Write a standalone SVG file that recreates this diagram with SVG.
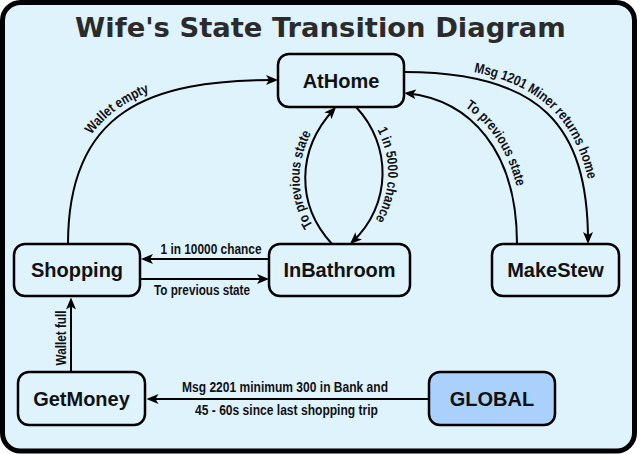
<svg xmlns="http://www.w3.org/2000/svg" width="640" height="454" viewBox="0 0 640 454">
<defs>
<style>
.node rect{fill:#dff3fd;stroke:#000;stroke-width:2.5}
.node text{font-family:"Liberation Sans",Arial,sans-serif;font-weight:bold;font-size:20px;fill:#111;text-anchor:middle}
.edge{fill:none;stroke:#000;stroke-width:2}
.lbl{font-family:"Liberation Sans Narrow","Arial Narrow","Liberation Sans",sans-serif;font-weight:bold;font-size:14px;fill:#111}
.mid{text-anchor:middle}
</style>
<marker id="arr" viewBox="0 0 12 10" refX="9" refY="5" markerWidth="12" markerHeight="10" markerUnits="userSpaceOnUse" orient="auto">
<path d="M0,0 L12,5 L0,10 L3,5 Z" fill="#000"/>
</marker>
<path id="tp1" d="M62,244 C62,105 148,74 275,74"/>
<path id="tp2" d="M404,66 C544,66 594,122 594,243"/>
<path id="tp3" d="M408,87 C477,94 523,148 523,243"/>
<path id="tp4" d="M361,108 C398,146 398,205 356,243"/>
<path id="tp5" d="M327,244 C290,205 290,150 330,107"/>
</defs>
<rect x="2.5" y="2.5" width="632" height="448.5" rx="18" fill="#dff3fd" stroke="#000" stroke-width="5"/>
<text x="320.5" y="37" font-family="DejaVu Sans,sans-serif" font-weight="bold" font-size="27.4" fill="#2b2b2b" text-anchor="middle">Wife's State Transition Diagram</text>

<g id="connectors">
<path class="edge" d="M68,244 C68,110 150,80 275,80" marker-end="url(#arr)"/>
<path class="edge" d="M404,72 C540,72 588,125 588,241" marker-end="url(#arr)"/>
<path class="edge" d="M517,244 C517,150 470,100 407,93.3" marker-end="url(#arr)"/>
<path class="edge" d="M356,107 C392,145 392,205 352.2,242" marker-end="url(#arr)"/>
<path class="edge" d="M332,244 C296,205 296,150 334,109.2" marker-end="url(#arr)"/>
<path class="edge" d="M269,259 L144,259" marker-end="url(#arr)"/>
<path class="edge" d="M141,279 L266,279" marker-end="url(#arr)"/>
<path class="edge" d="M71,372 L71,300.5" marker-end="url(#arr)"/>
<path class="edge" d="M429,399 L149.5,399" marker-end="url(#arr)"/>
<text class="lbl"><textPath href="#tp1" startOffset="48%" text-anchor="middle" textLength="73" lengthAdjust="spacingAndGlyphs">Wallet empty</textPath></text>
<text class="lbl"><textPath href="#tp2" startOffset="51%" text-anchor="middle" textLength="168" lengthAdjust="spacingAndGlyphs">Msg 1201 Miner returns home</textPath></text>
<text class="lbl"><textPath href="#tp3" startOffset="51%" text-anchor="middle" textLength="97" lengthAdjust="spacingAndGlyphs">To previous state</textPath></text>
<text class="lbl"><textPath href="#tp4" startOffset="49%" text-anchor="middle" textLength="94" lengthAdjust="spacingAndGlyphs">1 in 5000 chance</textPath></text>
<text class="lbl"><textPath href="#tp5" startOffset="47%" text-anchor="middle" textLength="97" lengthAdjust="spacingAndGlyphs">To previous state</textPath></text>
<text class="lbl mid" x="211" y="254" textLength="101" lengthAdjust="spacingAndGlyphs">1 in 10000 chance</text>
<text class="lbl mid" x="202" y="295" textLength="96" lengthAdjust="spacingAndGlyphs">To previous state</text>
<text class="lbl mid" transform="translate(66,338) rotate(-90)" textLength="55" lengthAdjust="spacingAndGlyphs">Wallet full</text>
<text class="lbl mid" x="285" y="391.5" textLength="206" lengthAdjust="spacingAndGlyphs">Msg 2201 minimum 300 in Bank and</text>
<text class="lbl mid" x="286.5" y="415" textLength="183" lengthAdjust="spacingAndGlyphs">45 - 60s since last shopping trip</text>
</g>

<g id="AtHome" class="node"><rect x="278" y="54" width="126" height="53" rx="11"/><text x="341" y="87.5">AtHome</text></g>
<g id="Shopping" class="node"><rect x="14" y="244" width="126" height="52" rx="11"/><text x="77" y="277">Shopping</text></g>
<g id="InBathroom" class="node"><rect x="269" y="244" width="141" height="52" rx="11"/><text x="339.5" y="277">InBathroom</text></g>
<g id="MakeStew" class="node"><rect x="492" y="244" width="127" height="52" rx="11"/><text x="555.5" y="277">MakeStew</text></g>
<g id="GetMoney" class="node"><rect x="18" y="372" width="127" height="53" rx="11"/><text x="81.5" y="405.5">GetMoney</text></g>
<g id="GLOBAL" class="node"><rect x="429" y="372" width="126" height="53" rx="11" style="fill:#a9d1fb"/><text x="492" y="405.5">GLOBAL</text></g>
</svg>
